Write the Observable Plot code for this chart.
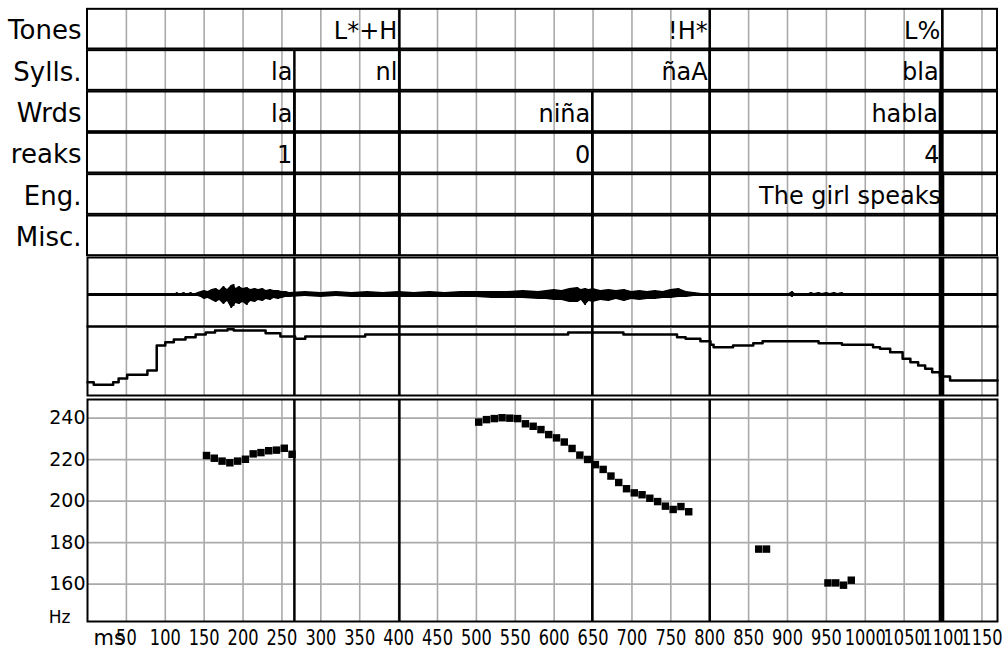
<!DOCTYPE html>
<html><head><meta charset="utf-8">
<script src="https://cdn.jsdelivr.net/npm/d3@7"></script>
<script src="https://cdn.jsdelivr.net/npm/@observablehq/plot@0.6"></script>
<style>
body{margin:0;background:#fff;}
#chart svg{display:block;}
</style></head><body><div id="chart"></div>
<script>
// ---------- data ----------
const tierNames = ["Tones", "Sylls.", "Wrds", "reaks", "Eng.", "Misc."];
const tonesT = [401, 800, 1099];
const tonesL = ["L*+H", "!H*", "L%"];
const syllT = [266, 401, 800, 1097];
const syllL = ["la", "nl", "ñaA", "bla"];
const wordT = [266, 649, 1096];
const wordL = ["la", "niña", "habla"];
const breakT = [266, 649, 1098];
const breakL = ["1", "0", "4"];
const engT = [1100];
const engL = ["The girl speaks"];
const miscT = [];
const miscL = [];

const msTicks = [50,100,150,200,250,300,350,400,450,500,550,600,650,700,750,800,850,900,950,1000,1050,1100,1150];
const hzTicks = [160, 180, 200, 220, 240];

const waveT = [112,115,118,124,127,133,136,142,146,150,155,160,165,170,175,180,185,188,191,195,200,205,210,215,220,225,230,235,240,245,250,255,260,280,300,320,340,360,380,400,420,440,460,480,500,520,540,560,580,590,600,610,620,630,635,640,645,650,660,670,680,690,700,710,720,730,740,750,760,770,780,790,795,900,906,912,925,930,935,940,945,950,955,960,965,970,975];
const waveUp = [0,2,0,2,0,2,0,2,3,4,3,5,6,4,8,5,9,10,6,8,6,7,5,6,5,6,4,5,4,4,3,3,2,3,2,3,2,3,2,3,2,3,2,3,3,3,3,4,3,4,5,4,6,7,5,6,5,6,4,5,4,5,3,4,3,4,3,5,6,3,2,1,0,0,3,0,0,2,1,2,1,2,1,2,1,2,0];
const waveDown = [0,2,0,2,0,2,0,2,3,5,4,6,8,6,10,7,14,12,9,10,8,11,7,8,6,7,5,6,4,5,4,3,3,2,3,2,3,3,3,3,3,3,3,3,3,4,4,4,5,5,6,6,8,8,6,11,7,8,6,7,5,7,5,6,5,5,4,4,3,3,2,1,0,0,3,0,0,2,1,2,1,2,1,2,2,2,0];

const intT = [0,8,33,40,51,77,89,100,111,126,139,152,164,180,188,229,248,267,280,357,618,689,758,769,788,801,805,830,856,868,940,970,1010,1019,1032,1048,1058,1068,1077,1086,1096,1109,1170];
const intDb = [47.7,46.2,47.7,49.9,52,54.5,69,70.9,72.5,73.8,75.4,76.5,77.7,78.4,77.7,76.1,74.2,72.9,74.2,75.4,76.5,75.4,73.8,72.9,71.5,69.4,68,69,70.3,71.5,70.3,69.4,68,67.1,65.1,61.3,59.3,57.4,55.5,53.5,51,48.7,48.7];

const pitchT = [153,163,173,183,193,203,213,223,233,243,253,263,
  503,513,523,533,543,553,563,573,583,593,603,613,623,633,643,653,663,673,683,693,703,713,723,733,743,753,763,773,
  863,873, 952,962,972,982];
const pitchHz = [222.0,220.7,219.3,218.5,219.3,220.2,222.8,223.4,224.3,224.6,225.5,222.6,
  238.1,239.3,239.8,240.2,240.0,239.8,237.3,236.1,234.5,232.1,230.5,228.5,225.4,222.2,220.1,217.6,215.3,212.1,209.0,206.0,204.0,203.1,201.4,199.8,197.6,196.0,197.4,194.9,
  176.9,176.9, 160.6,160.6,159.5,161.9];

const X_DOMAIN = [0, 1170];
const HZ_DOMAIN = [142, 249];
const WAVE_DOMAIN = [-32, 37];
const DB_DOMAIN = [40, 80];

// ---------- derived tables ----------
const tiers = [[tonesT, tonesL], [syllT, syllL], [wordT, wordL], [breakT, breakL], [engT, engL], [miscT, miscL]];
const rows = tierNames.map((n, i) => ({i, y1: i + 0.02, y2: i + 0.98, mid: i + 0.5}));
const tierText = tiers.flatMap(([ts, ls], i) => ts.map((t, j) => ({t, label: ls[j], row: i + 0.5})));
const tierBounds = tiers.flatMap(([ts], i) => ts.map(t => ({t, top: i + 0.02})));
const allBounds = Array.from(new Set(tiers.flatMap(([ts]) => ts)));
const wave = waveT.map((t, i) => ({t, up: waveUp[i], down: -waveDown[i]}));
const inten = intT.map((t, i) => ({t, db: intDb[i]}));
const pitch = pitchT.map((t, i) => ({t, hz: pitchHz[i]}));

const GRID = "#aaa";
const FONT = "DejaVu Sans";
function base(opts) {
  return Object.assign({
    width: 1005, marginLeft: 87, marginRight: 8,
    x: {domain: X_DOMAIN, axis: null},
    style: {fontFamily: FONT, color: "black", background: "white", overflow: "visible"}
  }, opts);
}
const chart = document.getElementById("chart");

// ---------- tiers ----------
const pA = Plot.plot(base({
  height: 256, marginTop: 8, marginBottom: 0,
  y: {domain: [0, 6], reverse: true, axis: null},
  marks: [
    Plot.rect(rows, {x1: () => X_DOMAIN[0], x2: () => X_DOMAIN[1], y1: "y1", y2: "y2", fill: "white"}),
    Plot.ruleX(msTicks, {stroke: GRID, strokeWidth: 1.6}),
    Plot.rect(rows, {x1: () => X_DOMAIN[0], x2: () => X_DOMAIN[1], y1: "y1", y2: "y2", fill: "none", stroke: "black", strokeWidth: 2}),
    Plot.ruleX(tierBounds, {x: "t", y1: "top", y2: () => 6, stroke: "black", strokeWidth: 2.5}),
    Plot.text(tierText, {x: "t", y: "row", text: "label", textAnchor: "end", dx: -2, dy: 2, fontSize: 24}),
    Plot.text(rows, {frameAnchor: "left", y: "mid", text: d => tierNames[d.i], textAnchor: "end", dx: -6, dy: 2, fontSize: 26})
  ]
}));
chart.appendChild(pA);

// ---------- waveform ----------
const pB = Plot.plot(base({
  height: 70, marginTop: 1, marginBottom: 0,
  y: {domain: WAVE_DOMAIN, axis: null},
  marks: [
    Plot.ruleX(msTicks, {stroke: GRID, strokeWidth: 1.6}),
    Plot.ruleX(allBounds, {stroke: "black", strokeWidth: 2.5}),
    Plot.ruleY([0], {stroke: "black", strokeWidth: 3}),
    Plot.areaY(wave, {x: "t", y1: "down", y2: "up", fill: "black"}),
    Plot.ruleX(wave, {x: "t", y1: "down", y2: "up", stroke: "black", strokeWidth: 1.5}),
    Plot.frame({stroke: "black", strokeWidth: 2})
  ]
}));
chart.appendChild(pB);

// ---------- intensity ----------
const pC = Plot.plot(base({
  height: 70, marginTop: 0, marginBottom: 1,
  y: {domain: DB_DOMAIN, axis: null},
  marks: [
    Plot.ruleX(msTicks, {stroke: GRID, strokeWidth: 1.6}),
    Plot.ruleX(allBounds, {stroke: "black", strokeWidth: 2.5}),
    Plot.line(inten, {x: "t", y: "db", curve: "step-after", stroke: "black", strokeWidth: 2.5}),
    Plot.frame({stroke: "black", strokeWidth: 2})
  ]
}));
chart.appendChild(pC);

// ---------- pitch ----------
const pD = Plot.plot(base({
  height: 253, marginTop: 3, marginBottom: 28,
  y: {domain: HZ_DOMAIN, axis: null},
  marks: [
    Plot.ruleX(msTicks, {stroke: GRID, strokeWidth: 1.6}),
    Plot.ruleY(hzTicks, {stroke: GRID, strokeWidth: 1.6}),
    Plot.ruleX(allBounds, {stroke: "black", strokeWidth: 2.5}),
    Plot.dot(pitch, {x: "t", y: "hz", symbol: "square", fill: "black", r: 4.2}),
    Plot.frame({stroke: "black", strokeWidth: 2}),
    Plot.axisY(hzTicks, {tickSize: 0, tickPadding: 2, fontSize: 19, label: null}),
    Plot.axisX(msTicks, {tickSize: 0, tickPadding: 9, fontSize: 21, label: null, tickFormat: d => String(d)}),
    Plot.text(["Hz"], {frameAnchor: "bottom-left", text: d => d, textAnchor: "end", lineAnchor: "bottom", dx: -17, dy: 1, fontSize: 17}),
    Plot.text(["ms"], {frameAnchor: "bottom-left", text: d => d, textAnchor: "start", lineAnchor: "top", dx: 6, dy: 9, fontSize: 21, ariaLabel: "ms-label"})
  ]
}));
chart.appendChild(pD);

// horizontally condensed bottom labels, as in the reference
d3.select(pD).selectAll('g[aria-label="x-axis tick label"] text, g[aria-label="ms-label"] text').each(function () {
  const s = this.textContent;
  this.setAttribute("textLength", s.length * 10.3);
  this.setAttribute("lengthAdjust", "spacingAndGlyphs");
});
</script>
</body></html>
